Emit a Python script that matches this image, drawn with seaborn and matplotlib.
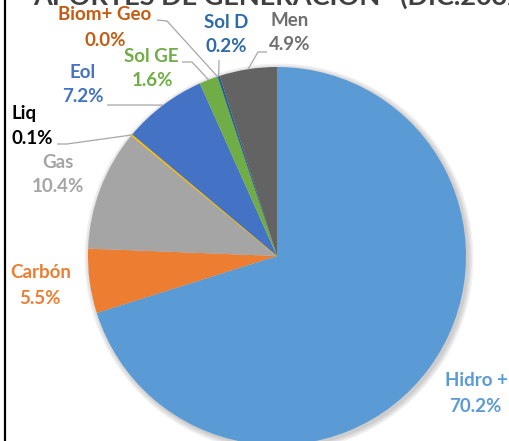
import numpy as np
import matplotlib
matplotlib.use("Agg")
import matplotlib.pyplot as plt
import seaborn as sns

# ---- data ----
categories = ["Hidro +", "Carbón", "Gas", "Liq", "Eol", "Sol GE", "Biom+ Geo", "Sol D", "Men"]
values = [70.2, 5.5, 10.4, 0.1, 7.2, 1.6, 0.0, 0.2, 4.9]
title = "APORTES DE GENERACIÓN   (DIC.2032)"

slice_colors = ["#5B9BD5", "#ED7D31", "#A5A5A5", "#FFC000", "#4472C4",
                "#70AD47", "#9E480E", "#255E91", "#636363"]
label_colors = ["#5B9BD5", "#ED7D31", "#A5A5A5", "#000000", "#4472C4",
                "#70AD47", "#C55A11", "#2E6AA6", "#6F6F6F"]

# label layout (pixel coords, y from top): name centre, pct centre
label_pos = {
    "Hidro +": ((476, 380), (475, 407)),
    "Carbón": ((41, 272), (40, 298)),
    "Gas": ((58, 162), (58, 187)),
    "Liq": ((24, 113), (32, 138)),
    "Eol": ((83, 72), (83, 97)),
    "Sol GE": ((151, 56), (152, 81)),
    "Biom+ Geo": ((105, 15), (105, 41)),
    "Sol D": ((226, 22), (226, 46)),
    "Men": ((290, 20), (290, 44)),
}
# leader lines: start point and elbow (pixel coords), end on pie edge
leaders = {
    "Liq": ((57, 144), (67, 144)),
    "Eol": ((107, 105), (150, 105)),
    "Sol GE": ((182, 62), (192, 62)),
    "Biom+ Geo": ((157, 20), (167, 21)),
    "Sol D": ((219, 60), (219, 62)),
    "Men": ((267, 52), (258, 52)),
}

W, H = 510, 441
sns.set_theme(style="white")
plt.rcParams["font.family"] = ["Lato", "DejaVu Sans"]

fig = plt.figure(figsize=(W / 100, H / 100), dpi=100)
ax = fig.add_axes([0, 0, 1, 1])

cx, cy, r = 277, H - 256, 189

# soft shadow
for i in range(4):
    ax.add_patch(plt.Circle((cx + 2, cy - 2), r + 1 + i * 1.5, color="#000000",
                            alpha=0.05, lw=0, zorder=0))

wedges, _ = ax.pie(values, colors=slice_colors, startangle=90, counterclock=False,
                   radius=r, center=(cx, cy), frame=True,
                   wedgeprops=dict(linewidth=0))
ax.set_xlim(0, W)
ax.set_ylim(0, H)
ax.set_aspect("equal")
ax.axis("off")

# Liq slice shows as thin yellow line
wedges[3].set_edgecolor("#FFC000")
wedges[3].set_linewidth(0.8)

for i, (cat, val) in enumerate(zip(categories, values)):
    (nx, ny), (px, py) = label_pos[cat]
    kw = dict(ha="center", va="center", fontsize=13.5, fontweight="bold",
              color=label_colors[i], zorder=5)
    ax.text(nx, H - ny, cat, **kw)
    ax.text(px, H - py, f"{val:.1f}%", **kw)
    if cat in leaders:
        w = wedges[i]
        mid = np.deg2rad((w.theta1 + w.theta2) / 2)
        ex, ey = cx + r * np.cos(mid), cy + r * np.sin(mid)
        (sx, sy), (bx, by) = leaders[cat]
        ax.plot([sx, bx, ex], [H - sy, H - by, ey], color="#A6A6A6", lw=0.9,
                zorder=4, solid_capstyle="butt")

# cropped title
ax.text(33, H - 5, title, ha="left", va="baseline", fontsize=19.5,
        fontweight="bold", color="#404040", zorder=6)

# left frame line
ax.plot([5, 5], [0, H], color="#000000", lw=1.6, zorder=7)

fig.savefig("out.png", dpi=100)
